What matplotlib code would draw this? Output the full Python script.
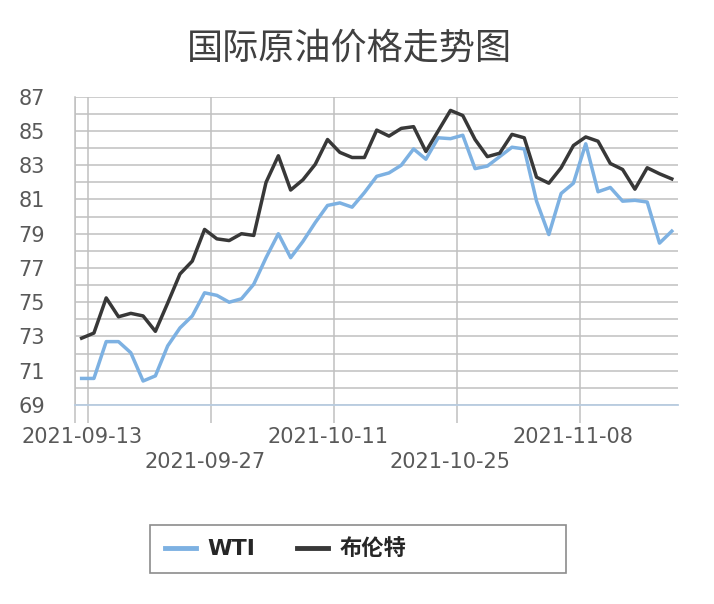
import pandas as pd
import matplotlib
matplotlib.use('Agg')
import matplotlib.pyplot as plt
from matplotlib.patches import Rectangle

plt.rcParams['font.family'] = ['DejaVu Sans', 'Noto Sans CJK SC']

# trading days shown on the category axis
dates = pd.bdate_range('2021-09-13', periods=49)

wti = [70.55, 70.55, 72.7, 72.7, 72.05, 70.4, 70.7, 72.45, 73.5, 74.2,
       75.55, 75.4, 75.0, 75.2, 76.05, 77.6, 79.0, 77.6, 78.55, 79.65,
       80.65, 80.8, 80.55, 81.4, 82.35, 82.55, 83.0, 83.95, 83.35, 84.6,
       84.55, 84.75, 82.8, 82.95, 83.5, 84.05, 83.95, 80.9, 78.95, 81.35,
       81.95, 84.25, 81.45, 81.7, 80.9, 80.95, 80.85, 78.45, 79.15]

brent = [72.9, 73.2, 75.25, 74.15, 74.35, 74.2, 73.3, 74.95, 76.65, 77.4,
         79.25, 78.7, 78.6, 79.0, 78.9, 82.0, 83.55, 81.55, 82.15, 83.05,
         84.5, 83.75, 83.45, 83.45, 85.05, 84.7, 85.15, 85.25, 83.8, 85.0,
         86.2, 85.9, 84.5, 83.5, 83.7, 84.8, 84.6, 82.3, 81.95, 82.85,
         84.15, 84.65, 84.4, 83.1, 82.75, 81.6, 82.85, 82.5, 82.2]

series_names = ['WTI', '布伦特']
label_idx = [0, 10, 20, 30, 40]
y_ticks = list(range(69, 88, 2))

fig = plt.figure(figsize=(7.14, 6.04), dpi=100)
ax = fig.add_axes([0.1057, 0.3295, 0.8438, 0.5104])

x = list(range(1, len(dates) + 1))
ax.plot(x, wti, color='#7DB1E2', lw=2.5, label=series_names[0], zorder=3)
ax.plot(x, brent, color='#383838', lw=2.5, label=series_names[1], zorder=4)

ax.set_xlim(0.5, len(dates) + 0.5)
ax.set_ylim(69, 87)

# y axis
ax.set_yticks(y_ticks)
ax.set_yticks(range(69, 88), minor=True)
ax.tick_params(axis='y', which='both', length=0, pad=22, labelsize=15, labelcolor='#595959')

# x axis: tick marks between categories, labels on categories (staggered)
ax.set_xticks([0.5] + [i + 1.5 for i in label_idx])
ax.set_xticklabels([])
ax.set_xticks([i + 1 for i in label_idx], minor=True)
lbls = []
for k, i in enumerate(label_idx):
    s = dates[i].strftime('%Y-%m-%d')
    lbls.append(s if k % 2 == 0 else '\n' + s)
ax.set_xticklabels(lbls, minor=True)
ax.tick_params(axis='x', which='major', length=13, width=1.1, color='#C0C0C0', direction='out')
ax.tick_params(axis='x', which='minor', length=0, pad=16, labelsize=15, labelcolor='#595959')
for t in ax.get_xticklabels(minor=True):
    t.set_linespacing(1.3)

ax.grid(True, which='major', axis='x', color='#C0C0C0', lw=1.1)
ax.grid(True, which='both', axis='y', color='#C0C0C0', lw=1.1)
ax.set_axisbelow(True)

for s in ['top', 'right']:
    ax.spines[s].set_visible(False)
ax.spines['left'].set_color('#C0C0C0')
ax.spines['left'].set_linewidth(1.1)
ax.spines['bottom'].set_color('#B8CCE0')
ax.spines['bottom'].set_linewidth(1.3)

fig.text(0.4895, 0.919, '国际原油价格走势图', ha='center', va='center',
         fontsize=26, color='#404040', family=['Noto Sans CJK SC'])

# legend in a wide box
leg = fig.legend(loc='center left', bbox_to_anchor=(165 / 714, 1 - 549 / 604),
                 ncol=2, frameon=False, borderpad=0, borderaxespad=0,
                 handlelength=1.4, handletextpad=0.5, columnspacing=1.9,
                 prop={'size': 16, 'weight': 'bold'})
for line in leg.get_lines():
    line.set_linewidth(3.5)
for t in leg.get_texts():
    t.set_color('#262626')
fig.add_artist(Rectangle((150 / 714, 1 - 573 / 604), 416 / 714, 48 / 604,
                         transform=fig.transFigure, fill=False,
                         edgecolor='#8C8C8C', lw=1.2))

fig.savefig('out.png', dpi=100, facecolor='white')
